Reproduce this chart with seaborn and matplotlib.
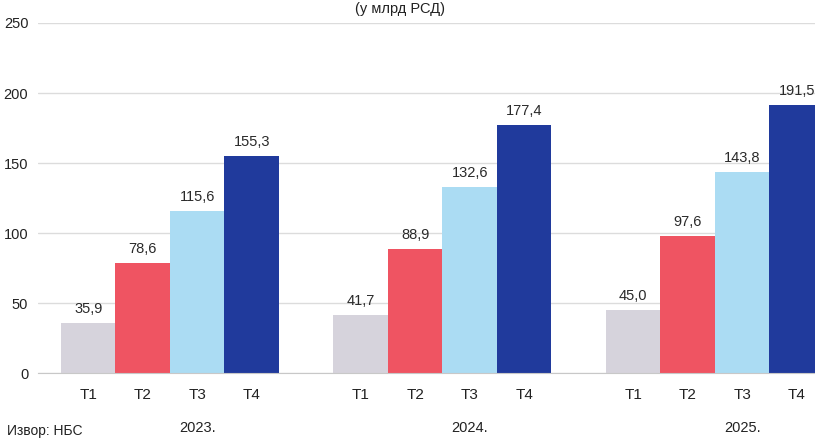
import matplotlib
matplotlib.use("Agg")
import matplotlib.pyplot as plt
import matplotlib.transforms as mtransforms
import seaborn as sns
import pandas as pd

years = ["2023.", "2024.", "2025."]
quarters = ["T1", "T2", "T3", "T4"]
vals_2023 = [35.9, 78.6, 115.6, 155.3]
vals_2024 = [41.7, 88.9, 132.6, 177.4]
vals_2025 = [45.0, 97.6, 143.8, 191.5]
yticks = [0, 50, 100, 150, 200, 250]
title = "(у млрд РСД)"
source = "Извор: НБС"

colors = {"T1": "#d6d3dc", "T2": "#ef5462", "T3": "#abdcf3", "T4": "#203a9c"}

rows = []
for gi, (yr, vals) in enumerate(zip(years, [vals_2023, vals_2024, vals_2025])):
    for qi, (q, v) in enumerate(zip(quarters, vals)):
        rows.append({"pos": gi * 5 + qi, "value": v, "quarter": q, "year": yr})
df = pd.DataFrame(rows)

sns.set_style("white")
plt.rcParams["font.family"] = ["Liberation Sans", "DejaVu Sans"]

W, H = 815, 440
fig = plt.figure(figsize=(W / 100, H / 100), dpi=100)
slot = 54.5
left_pad = 0.922
xmin, xmax = -left_pad, 14.5 - 0.5 + left_pad
ax_w = (xmax - xmin) * slot
ax = fig.add_axes([38 / W, 1 - 373 / H, ax_w / W, 350 / H])

sns.barplot(data=df, x="pos", y="value", hue="quarter", palette=colors,
            native_scale=True, width=1.0, dodge=False, legend=False,
            saturation=1, linewidth=0, ax=ax)

ax.set_xlim(xmin, xmax)
ax.set_ylim(0, 250)
ax.set_yticks(yticks)
ax.set_yticklabels([str(t) for t in yticks], fontsize=10.5, color="#222222")
ax.yaxis.grid(True, color="#dcdcdc", linewidth=1)
ax.set_axisbelow(True)
for s in ["top", "right", "left"]:
    ax.spines[s].set_visible(False)
ax.spines["bottom"].set_color("#c8c8c8")
ax.tick_params(axis="y", length=0, pad=7)
ax.tick_params(axis="x", length=0, pad=11)
ax.set_xticks(df["pos"].tolist())
ax.set_xticklabels(df["quarter"].tolist(), fontsize=11, color="#222222")
ax.set_xlabel("")
ax.set_ylabel("")

for _, r in df.iterrows():
    ax.annotate(f"{r['value']:.1f}".replace(".", ","), (r["pos"], r["value"]),
                xytext=(0, 5), textcoords="offset points", ha="center",
                va="bottom", fontsize=10.5, color="#2a2a2a")

trans = mtransforms.blended_transform_factory(ax.transData, fig.transFigure)
for gi, yr in enumerate(years):
    ax.text(gi * 5 + 1.5 + 0.5, 1 - 428 / H, yr, transform=trans,
            ha="center", va="center", fontsize=10.5, color="#222222")

fig.text(400 / W, 1 - 2 / H, title, ha="center", va="top",
         fontsize=10.5, color="#222222")
fig.text(7 / W, 1 - 438 / H, source, ha="left", va="bottom",
         fontsize=10, color="#222222")

fig.savefig("out.png", dpi=100)
